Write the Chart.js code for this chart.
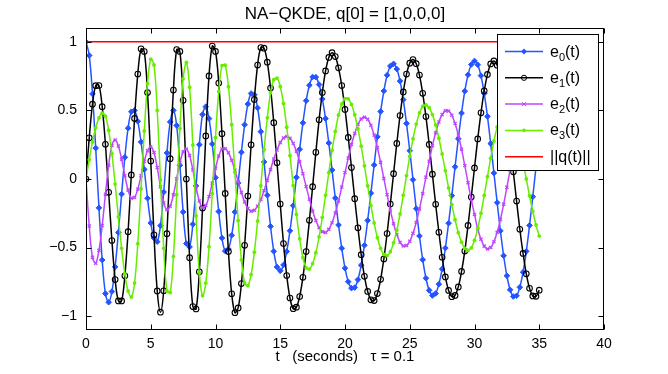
<!DOCTYPE html>
<html lang="en">
<head>
<meta charset="UTF-8">
<title>NA-QKDE</title>
<script src="https://cdn.jsdelivr.net/npm/chart.js"></script>
<style>
  html, body { margin: 0; padding: 0; background: #fff; }
  #wrap { width: 668px; height: 374px; }
</style>
</head>
<body>
<div id="wrap"><canvas id="qChart" width="668" height="374"></canvas></div>
<script>
// sample times (s), one row per second
const times = [
  0, 0.25, 0.5, 0.75,   1, 1.25, 1.5, 1.75,   2, 2.25, 2.5, 2.75,   3, 3.25, 3.5, 3.75,
  4, 4.25, 4.5, 4.75,   5, 5.25, 5.5, 5.75,   6, 6.25, 6.5, 6.75,   7, 7.25, 7.5, 7.75,
  8, 8.25, 8.5, 8.75,   9, 9.25, 9.5, 9.75,   10, 10.25, 10.5, 10.75,   11, 11.25, 11.5, 11.75,
  12, 12.25, 12.5, 12.75,   13, 13.25, 13.5, 13.75,   14, 14.25, 14.5, 14.75,   15, 15.25, 15.5, 15.75,
  16, 16.25, 16.5, 16.75,   17, 17.25, 17.5, 17.75,   18, 18.25, 18.5, 18.75,   19, 19.25, 19.5, 19.75,
  20, 20.25, 20.5, 20.75,   21, 21.25, 21.5, 21.75,   22, 22.25, 22.5, 22.75,   23, 23.25, 23.5, 23.75,
  24, 24.25, 24.5, 24.75,   25, 25.25, 25.5, 25.75,   26, 26.25, 26.5, 26.75,   27, 27.25, 27.5, 27.75,
  28, 28.25, 28.5, 28.75,   29, 29.25, 29.5, 29.75,   30, 30.25, 30.5, 30.75,   31, 31.25, 31.5, 31.75,
  32, 32.25, 32.5, 32.75,   33, 33.25, 33.5, 33.75,   34, 34.25, 34.5, 34.75,   35
];

const e0 = [
  1.0, 0.90, 0.62, 0.225,   -0.21, -0.59, -0.835, -0.898,   -0.82, -0.64, -0.39, -0.11,   0.158, 0.37, 0.49, 0.50,
  0.42, 0.27, 0.07, -0.14,   -0.32, -0.43, -0.457, -0.34,   -0.095, 0.19, 0.416, 0.50,   0.39, 0.10, -0.24, -0.47,
  -0.495, -0.33, -0.05, 0.25,   0.47, 0.527, 0.44, 0.255,   0.01, -0.237, -0.43, -0.525,   -0.51, -0.41, -0.24, -0.03,
  0.195, 0.395, 0.546, 0.623,   0.614, 0.518, 0.345, 0.124,   -0.118, -0.345, -0.527, -0.641,   -0.669, -0.626, -0.528, -0.377,
  -0.194, 0.012, 0.217, 0.409,   0.57, 0.683, 0.743, 0.742,   0.688, 0.583, 0.44, 0.262,   0.065, -0.139, -0.335, -0.505,
  -0.65, -0.748, -0.795, -0.791,   -0.733, -0.628, -0.483, -0.302,   -0.103, 0.102, 0.307, 0.492,   0.641, 0.756, 0.823, 0.839,
  0.801, 0.713, 0.578, 0.405,   0.206, -0.005, -0.216, -0.415,   -0.588, -0.723, -0.811, -0.849,   -0.834, -0.766, -0.656, -0.503,
  -0.322, -0.121, 0.089, 0.293,   0.48, 0.64, 0.759, 0.834,   0.86, 0.832, 0.753, 0.623,   0.456, 0.258, 0.043, -0.172,
  -0.378, -0.559, -0.705, -0.807,   -0.856, -0.851, -0.789, -0.679,   -0.527, -0.338, -0.129, 0.086,   0.301
];

const e1 = [
  0, 0.30, 0.545, 0.68,   0.681, 0.527, 0.253, -0.097,   -0.448, -0.733, -0.888, -0.888,   -0.705, -0.384, 0.03, 0.441,
  0.765, 0.948, 0.928, 0.63,   0.131, -0.407, -0.815, -0.97,   -0.814, -0.398, 0.148, 0.648,   0.943, 0.929, 0.573, 0.0,
  -0.573, -0.929, -0.947, -0.676,   -0.212, 0.314, 0.751, 0.968,   0.929, 0.699, 0.33, -0.105,   -0.529, -0.836, -0.974, -0.939,
  -0.762, -0.483, -0.124, 0.249,   0.58, 0.83, 0.958, 0.953,   0.851, 0.663, 0.41, 0.118,   -0.182, -0.47, -0.703, -0.867,
  -0.945, -0.934, -0.856, -0.716,   -0.529, -0.301, -0.056, 0.194,   0.431, 0.63, 0.787, 0.886,   0.92, 0.892, 0.81, 0.681,
  0.507, 0.303, 0.083, -0.143,   -0.356, -0.551, -0.709, -0.819,   -0.88, -0.886, -0.835, -0.731,   -0.582, -0.397, -0.183, 0.039,
  0.259, 0.462, 0.634, 0.764,   0.844, 0.87, 0.84, 0.757,   0.624, 0.455, 0.252, 0.035,   -0.184, -0.388, -0.57, -0.713,
  -0.812, -0.857, -0.848, -0.786,   -0.673, -0.525, -0.338, -0.132,   0.081, 0.292, 0.482, 0.642,   0.762, 0.838, 0.86, 0.829,
  0.747, 0.619, 0.456, 0.261,   0.052, -0.161, -0.366, -0.542,   -0.691, -0.796, -0.852, -0.855,   -0.81
];

const e2 = [
  0, -0.343, -0.571, -0.614,   -0.52, -0.339, -0.112, 0.10,   0.244, 0.284, 0.24, 0.144,   0.024, -0.081, -0.14, -0.134,
  -0.074, 0.024, 0.129, 0.205,   0.235, 0.193, 0.083, -0.057,   -0.174, -0.224, -0.199, -0.115,   0.002, 0.118, 0.198, 0.218,
  0.171, 0.067, -0.057, -0.16,   -0.208, -0.193, -0.128, -0.03,   0.078, 0.168, 0.219, 0.221,   0.191, 0.136, 0.064, -0.018,
  -0.098, -0.167, -0.214, -0.234,   -0.228, -0.198, -0.15, -0.085,   -0.01, 0.069, 0.146, 0.211,   0.265, 0.299, 0.31, 0.297,
  0.26, 0.203, 0.127, 0.039,   -0.055, -0.147, -0.233, -0.303,   -0.355, -0.384, -0.389, -0.366,   -0.319, -0.247, -0.16, -0.059,
  0.047, 0.152, 0.252, 0.332,   0.397, 0.437, 0.45, 0.435,   0.392, 0.32, 0.229, 0.121,   0.004, -0.114, -0.227, -0.326,
  -0.405, -0.461, -0.488, -0.485,   -0.454, -0.396, -0.317, -0.218,   -0.106, 0.013, 0.129, 0.243,   0.337, 0.416, 0.469, 0.497,
  0.496, 0.465, 0.404, 0.32,   0.217, 0.098, -0.027, -0.15,   -0.258, -0.364, -0.439, -0.489,   -0.51, -0.499, -0.457, -0.388,
  -0.296, -0.184, -0.061, 0.065,   0.188, 0.298, 0.391, 0.459,   0.5, 0.51, 0.487, 0.432,   0.352
];

const e3 = [
  0, 0.14, 0.27, 0.373,   0.445, 0.479, 0.457, 0.355,   0.185, -0.037, -0.276, -0.505,   -0.693, -0.816, -0.86, -0.758,
  -0.471, -0.071, 0.35, 0.695,   0.873, 0.831, 0.5, -0.007,   -0.505, -0.816, -0.827, -0.565,   -0.114, 0.369, 0.73, 0.849,
  0.669, 0.247, -0.268, -0.683,   -0.85, -0.758, -0.493, -0.106,   0.302, 0.638, 0.826, 0.829,   0.672, 0.396, 0.048, -0.303,
  -0.589, -0.757, -0.777, -0.696,   -0.533, -0.306, -0.049, 0.213,   0.446, 0.628, 0.723, 0.734,   0.674, 0.55, 0.377, 0.171,
  -0.048, -0.258, -0.436, -0.573,   -0.647, -0.656, -0.617, -0.537,   -0.421, -0.279, -0.117, 0.047,   0.209, 0.346, 0.467, 0.547,
  0.586, 0.583, 0.543, 0.468,   0.366, 0.239, 0.096, -0.05,   -0.192, -0.32, -0.428, -0.505,   -0.55, -0.558, -0.53, -0.465,
  -0.373, -0.255, -0.118, 0.025,   0.165, 0.293, 0.40, 0.481,   0.528, 0.539, 0.519, 0.469,   0.394, 0.297, 0.183, 0.06,
  -0.065, -0.186, -0.297, -0.391,   -0.46, -0.505, -0.52, -0.502,   -0.447, -0.361, -0.249, -0.12,   0.017, 0.152, 0.277, 0.379,
  0.453, 0.493, 0.498, 0.471,   0.416, 0.335, 0.235, 0.122,   0.0, -0.122, -0.235, -0.335,   -0.416
];

// ||q(t)|| stays at 1
const normTimes = [0, 35];
const normValues = [1, 1];

const xTicks = [0, 5, 10, 15, 20, 25, 30, 35, 40];
const yTicks = [-1, -0.5, 0, 0.5, 1];

const chartTitle = 'NA\u2212QKDE, q[0] = [1,0,0,0]';
const xTitle = 't   (seconds)   \u03c4 = 0.1';

const BLUE = 'rgb(36, 84, 255)';
const BLACK = '#000000';
const PURPLE = 'rgb(190, 70, 255)';
const GREEN = 'rgb(104, 236, 0)';
const RED = 'rgb(255, 0, 0)';

const FONT = '"Liberation Sans", Arial, Helvetica, sans-serif';

function pts(xs, ys) {
  return xs.map((t, i) => ({ x: t, y: ys[i] }));
}

// legend entries: [base, subscript, rest]
const legendItems = [
  { text: ['e', '0', '(t)'], color: BLUE, marker: 'diamond' },
  { text: ['e', '1', '(t)'], color: BLACK, marker: 'circle' },
  { text: ['e', '2', '(t)'], color: PURPLE, marker: 'cross' },
  { text: ['e', '3', '(t)'], color: GREEN, marker: 'dot' },
  { text: ['||q(t)||', '', ''], color: RED, marker: null }
];

function drawMarker(ctx, kind, x, y, color) {
  ctx.save();
  ctx.strokeStyle = color;
  ctx.fillStyle = color;
  ctx.lineWidth = 1;
  ctx.beginPath();
  if (kind === 'diamond') {
    ctx.moveTo(x, y - 3); ctx.lineTo(x + 3, y); ctx.lineTo(x, y + 3); ctx.lineTo(x - 3, y);
    ctx.closePath(); ctx.fill();
  } else if (kind === 'circle') {
    ctx.arc(x, y, 2.6, 0, Math.PI * 2); ctx.stroke();
  } else if (kind === 'cross') {
    ctx.moveTo(x - 2, y - 2); ctx.lineTo(x + 2, y + 2);
    ctx.moveTo(x + 2, y - 2); ctx.lineTo(x - 2, y + 2); ctx.stroke();
  } else if (kind === 'dot') {
    ctx.arc(x, y, 1.8, 0, Math.PI * 2); ctx.fill();
  }
  ctx.restore();
}

const matlabFrame = {
  id: 'matlabFrame',
  afterDatasetsDraw(chart) {
    const { ctx, chartArea: a, scales } = chart;
    const L = Math.round(a.left) + 0.5, R = Math.round(a.right) - 0.5;
    const T = Math.round(a.top) + 0.5, B = Math.round(a.bottom) - 0.5;
    ctx.save();
    ctx.strokeStyle = '#000';
    ctx.lineWidth = 1;
    ctx.strokeRect(L, T, R - L, B - T);
    // inward tick marks on all four sides
    ctx.beginPath();
    xTicks.forEach(v => {
      const px = Math.round(scales.x.getPixelForValue(v)) + 0.5;
      ctx.moveTo(px, B); ctx.lineTo(px, B - 5);
      ctx.moveTo(px, T); ctx.lineTo(px, T + 5);
    });
    yTicks.forEach(v => {
      const py = Math.round(scales.y.getPixelForValue(v)) + 0.5;
      ctx.moveTo(L, py); ctx.lineTo(L + 5, py);
      ctx.moveTo(R, py); ctx.lineTo(R - 5, py);
    });
    ctx.stroke();

    // titles
    ctx.fillStyle = '#000';
    ctx.textAlign = 'center';
    ctx.textBaseline = 'middle';
    const cx = (a.left + a.right) / 2;
    ctx.font = '17px ' + FONT;
    ctx.fillText(chartTitle, cx, 14);
    ctx.font = '15px ' + FONT;
    ctx.fillText(xTitle, cx, 357);

    // legend box
    const lx = 497.5, ly = 34.5, lw = 101, lh = 136;
    ctx.fillStyle = '#fff';
    ctx.fillRect(lx, ly, lw, lh);
    ctx.strokeStyle = '#000';
    ctx.strokeRect(lx, ly, lw, lh);
    legendItems.forEach((it, i) => {
      const yy = 51.5 + i * 26.3;
      ctx.strokeStyle = it.color;
      ctx.lineWidth = 1.5;
      ctx.beginPath();
      ctx.moveTo(505, yy); ctx.lineTo(543, yy);
      ctx.stroke();
      if (it.marker) drawMarker(ctx, it.marker, 524, yy, it.color);
      ctx.fillStyle = '#000';
      ctx.textAlign = 'left';
      ctx.textBaseline = 'alphabetic';
      let tx = 550;
      ctx.font = '16px ' + FONT;
      ctx.fillText(it.text[0], tx, yy + 5);
      tx += ctx.measureText(it.text[0]).width;
      if (it.text[1]) {
        ctx.font = '11px ' + FONT;
        ctx.fillText(it.text[1], tx, yy + 9);
        tx += ctx.measureText(it.text[1]).width;
      }
      if (it.text[2]) {
        ctx.font = '16px ' + FONT;
        ctx.fillText(it.text[2], tx, yy + 5);
      }
    });
    ctx.restore();
  }
};

const lineBase = {
  borderWidth: 1.5,
  tension: 0.35,
  fill: false
};

const ctx = document.getElementById('qChart').getContext('2d');
new Chart(ctx, {
  type: 'line',
  data: {
    datasets: [
      Object.assign({}, lineBase, {
        label: 'e0(t)', data: pts(times, e0), order: 5,
        borderColor: BLUE, backgroundColor: BLUE,
        pointStyle: 'rectRot', pointRadius: 2.8, pointBorderWidth: 1,
        pointBackgroundColor: BLUE, pointBorderColor: BLUE
      }),
      Object.assign({}, lineBase, {
        label: 'e1(t)', data: pts(times, e1), order: 4,
        borderColor: BLACK, backgroundColor: BLACK,
        pointStyle: 'circle', pointRadius: 2.8, pointBorderWidth: 1.1,
        pointBackgroundColor: 'rgba(255,255,255,0)', pointBorderColor: BLACK
      }),
      Object.assign({}, lineBase, {
        label: 'e2(t)', data: pts(times, e2), order: 3,
        borderColor: PURPLE, backgroundColor: PURPLE,
        pointStyle: 'crossRot', pointRadius: 2.2, pointBorderWidth: 1.3,
        pointBorderColor: PURPLE
      }),
      Object.assign({}, lineBase, {
        label: 'e3(t)', data: pts(times, e3), order: 2,
        borderColor: GREEN, backgroundColor: GREEN,
        pointStyle: 'circle', pointRadius: 1.9, pointBorderWidth: 0,
        pointBackgroundColor: GREEN
      }),
      {
        label: '||q(t)||', data: pts(normTimes, normValues), order: 1,
        borderColor: RED, borderWidth: 1.3, pointRadius: 0, fill: false, tension: 0
      }
    ]
  },
  options: {
    responsive: false,
    animation: false,
    devicePixelRatio: 1,
    layout: { padding: { top: 28, right: 64, bottom: 0, left: 0 } },
    plugins: {
      legend: { display: false },
      title: { display: false },
      tooltip: { enabled: false }
    },
    scales: {
      x: {
        type: 'linear',
        min: 0, max: 40,
        afterBuildTicks: s => { s.ticks = xTicks.map(v => ({ value: v })); },
        afterFit: s => { s.height = 44; },
        grid: { display: false, drawTicks: false },
        border: { display: false },
        ticks: {
          color: '#000', padding: 6, maxRotation: 0, autoSkip: false,
          font: { family: FONT, size: 14 },
          callback: v => String(v)
        }
      },
      y: {
        type: 'linear',
        min: -1.1, max: 1.1,
        afterBuildTicks: s => { s.ticks = yTicks.map(v => ({ value: v })); },
        afterFit: s => { s.width = 86; },
        grid: { display: false, drawTicks: false },
        border: { display: false },
        ticks: {
          color: '#000', padding: 9, autoSkip: false,
          font: { family: FONT, size: 14 },
          callback: v => String(v).replace('-', '\u2212')
        }
      }
    }
  },
  plugins: [matlabFrame]
});
</script>
</body>
</html>
